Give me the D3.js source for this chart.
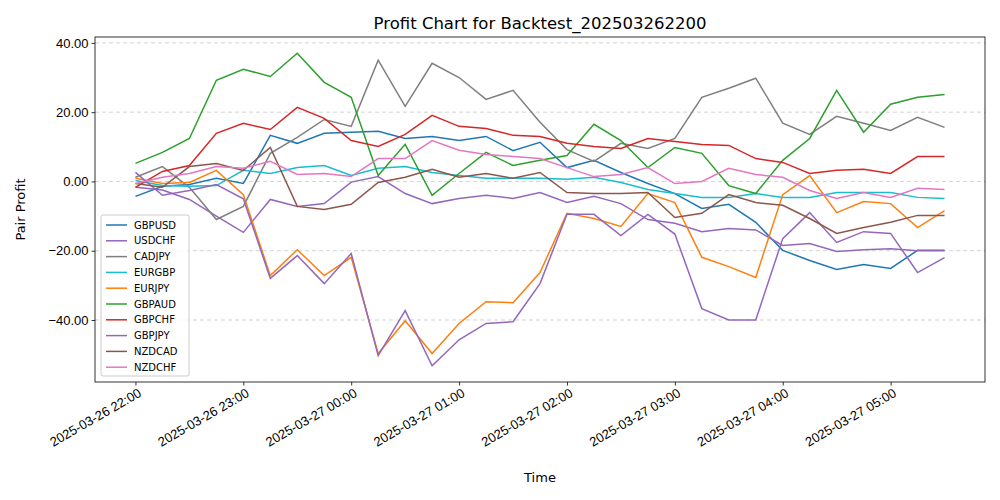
<!DOCTYPE html>
<html><head><meta charset="utf-8">
<script src="https://cdn.jsdelivr.net/npm/d3@7"></script>
<style>body{margin:0;background:#fff}svg{font-family:"DejaVu Sans",sans-serif}</style>
</head><body><svg id="c" width="1000" height="500"></svg>
<script>
const startTime = "2025-03-26T22:00:00";
const stepMinutes = 15;
const xTickLabels = ["2025-03-26 22:00","2025-03-26 23:00","2025-03-27 00:00","2025-03-27 01:00","2025-03-27 02:00","2025-03-27 03:00","2025-03-27 04:00","2025-03-27 05:00"];
const yTicks = [-40,-20,0,20,40];
const seriesNames = ["GBPUSD","USDCHF","CADJPY","EURGBP","EURJPY","GBPAUD","GBPCHF","GBPJPY","NZDCAD","NZDCHF"];
const colors = ["#1f77b4","#9467bd","#7f7f7f","#17becf","#ff7f0e","#2ca02c","#d62728","#9467bd","#8c564b","#e377c2"];
const GBPUSD = [-4.3,-1.4,-0.9,0.9,-0.6,13.3,11,13.9,14.2,14.5,12.4,13,11.8,13,8.9,11.3,4,6.1,2.6,-0.6,-3.5,-7.8,-6.6,-11.8,-19.9,-22.8,-25.4,-24,-25.1,-19.9,-19.9];
const USDCHF = [-1.7,-2.5,-5.2,-10,-14.7,-5.2,-7.2,-6.4,-0.2,1.4,-3.5,-6.4,-4.9,-4,-4.9,-3.2,-6.1,-4.3,-6.4,-11,-12.1,-14.5,-13.6,-14,-18.5,-17.9,-20.2,-19.7,-19.4,-20,-20];
const CADJPY = [1.2,4.3,-1.7,-11,-7.2,8.1,12.7,17.9,15.9,35,21.7,34.1,30,23.7,26.3,17.1,9.2,5.8,11,9.5,12.4,24.3,26.9,29.8,16.8,13.6,18.8,16.8,14.7,18.5,15.6];
const EURGBP = [0.3,-1.2,-1.4,-1.2,3.2,2.3,4,4.6,1.7,3.8,4.3,2.6,1.7,0.9,0.9,0.9,0.6,1.2,-0.3,-2.3,-3.5,-4.6,-4.6,-3.5,-4.6,-4.6,-3.2,-3.2,-3.2,-4.6,-4.9];
const EURJPY = [0.9,-0.6,-0.3,3.2,-3.8,-27.2,-19.7,-27.2,-21.9,-49.7,-40.2,-49.7,-41,-34.7,-35,-26.3,-9.2,-10.7,-13,-3.5,-6.1,-21.9,-24.6,-27.7,-3.8,1.7,-9,-5.8,-6.4,-13.3,-8.4];
const GBPAUD = [5.2,8.4,12.4,29.2,32.4,30.3,37,28.6,24.3,1.7,10.7,-4,2.3,8.4,4.6,6.1,7.5,16.5,11.8,4,9.8,8.1,-1.2,-3.5,6.1,12.4,26.3,14.2,22.3,24.3,25.1];
const GBPCHF = [-1.7,2.9,4.6,13.9,16.8,15,21.4,18.2,11.8,10.1,13.6,19.1,15.9,15.3,13.3,13,11,10.1,9.5,12.4,11.5,10.7,10.4,6.6,5.5,2.3,3.2,3.5,2.3,7.2,7.2];
const GBPJPY = [2.6,-4,-2.6,-0.9,-5,-28,-21.4,-29.5,-20.8,-50.3,-37.3,-53.2,-45.7,-41,-40.5,-29.5,-9.5,-9.5,-15.6,-9.5,-15.2,-36.7,-40,-40,-16.5,-9,-17.6,-14.5,-15,-26.3,-22];
const NZDCAD = [-0.6,-1.7,4.3,5.2,3.2,9.8,-7.2,-8.1,-6.6,-0.3,1.2,3.5,1.2,2.3,0.9,2.6,-3.2,-3.5,-3.5,-3.2,-10.4,-9.2,-3.8,-6.1,-6.9,-10.7,-15,-13.3,-11.8,-9.8,-9.8];
const NZDCHF = [-0.6,1.2,2.3,4.3,3.8,5.8,2,2.3,1.4,6.6,6.6,11.8,9,7.8,7.2,6.6,4,1.4,2,4,-0.6,0,3.8,2,1.2,-2.6,-4.9,-3.2,-4.6,-2,-2.3];
const seriesValues = [GBPUSD,USDCHF,CADJPY,EURGBP,EURJPY,GBPAUD,GBPCHF,GBPJPY,NZDCAD,NZDCHF];

const svg = d3.select("#c");
const L=95,R=985,T=37,B=382;
const parse = d3.timeParse("%Y-%m-%dT%H:%M:%S");
const t0 = parse(startTime);
const times = GBPUSD.map((_,i)=>new Date(t0.getTime()+i*stepMinutes*60000));
const span = times[times.length-1]-times[0];
const x = d3.scaleTime().domain([new Date(+times[0]-span*0.05), new Date(+times[times.length-1]+span*0.05)]).range([L,R]);
const y = d3.scaleLinear().domain([-57.9,41.7]).range([B,T]);

// grid
svg.append("g").selectAll("line").data(yTicks).join("line")
  .attr("x1",L).attr("x2",R).attr("y1",d=>y(d)).attr("y2",d=>y(d))
  .attr("stroke","#b0b0b0").attr("stroke-opacity",0.7).attr("stroke-dasharray","4,3").attr("stroke-width",0.8);

const line = d3.line().x((d,i)=>x(times[i])).y(d=>y(d));
seriesValues.forEach((vals,k)=>{
  svg.append("path").attr("d",line(vals)).attr("fill","none").attr("stroke",colors[k]).attr("stroke-width",1.5);
});

// axes
const tickDates = xTickLabels.map(s=>d3.timeParse("%Y-%m-%d %H:%M")(s));
const xAxis = svg.append("g").attr("transform",`translate(0,${B})`)
  .call(d3.axisBottom(x).tickValues(tickDates).tickFormat(d3.timeFormat("%Y-%m-%d %H:%M")).tickSize(3.5).tickSizeOuter(0));
xAxis.selectAll("text").attr("font-size",13).attr("text-anchor","end").attr("dx",0).attr("dy",0)
  .attr("transform","translate(3,8) rotate(-30)").attr("fill","#000");
const yAxis = svg.append("g").attr("transform",`translate(${L},0)`)
  .call(d3.axisLeft(y).tickValues(yTicks).tickFormat(d3.format(".2f")).tickSize(3.5).tickSizeOuter(0));
yAxis.selectAll("text").attr("font-size",13).attr("fill","#000");
[xAxis,yAxis].forEach(a=>{a.select(".domain").remove();a.selectAll("line").attr("stroke","#000").attr("stroke-width",0.8);});
svg.append("rect").attr("x",L).attr("y",T).attr("width",R-L).attr("height",B-T).attr("fill","none").attr("stroke","#000").attr("stroke-width",0.8);

svg.append("text").attr("x",(L+R)/2).attr("y",29).attr("text-anchor","middle").attr("font-size",16.5).text("Profit Chart for Backtest_202503262200");
svg.append("text").attr("x",(L+R)/2).attr("y",482).attr("text-anchor","middle").attr("font-size",13).text("Time");
svg.append("text").attr("transform",`translate(25,${(T+B)/2}) rotate(-90)`).attr("text-anchor","middle").attr("font-size",13).text("Pair Profit");

// legend
const lg = svg.append("g");
lg.append("rect").attr("x",101).attr("y",215).attr("width",88).attr("height",161).attr("rx",2).attr("fill","#fff").attr("fill-opacity",0.8).attr("stroke","#ccc");
seriesNames.forEach((n,k)=>{
  const yy=225+k*15.8;
  lg.append("line").attr("x1",106).attr("x2",127).attr("y1",yy).attr("y2",yy).attr("stroke",colors[k]).attr("stroke-width",1.5);
  lg.append("text").attr("x",134).attr("y",yy+3.5).attr("font-size",10).text(n);
});
</script></body></html>
